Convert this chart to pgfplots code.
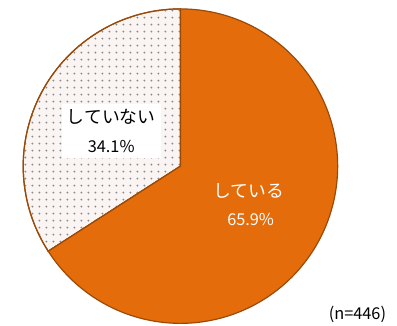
\documentclass[border=0pt]{standalone}
\usepackage{pgfplots}
\pgfplotsset{compat=1.18}
\usepackage{pgfplotstable}
\usepackage{fontspec}
\setmainfont{Noto Sans CJK JP}
\usetikzlibrary{patterns.meta}
\definecolor{pieorange}{HTML}{E46C0A}
\definecolor{pieedge}{HTML}{9A4A08}
\definecolor{dotbg}{HTML}{FAF5F2}
\definecolor{dotfg}{HTML}{8C8C8C}
\tikzdeclarepattern{name=mydots, type=uncolored,
  bottom left={(0,0)}, top right={(7.5bp,7.5bp)}, tile size={(7.5bp,7.5bp)},
  code={\fill (3.75bp,3.75bp) circle (1.1bp);}}
\pgfplotstableread{
label value
yes 65.9
no 34.1
}\piedata
\begin{document}
\pgfplotstablegetelem{0}{value}\of\piedata \let\vyes\pgfplotsretval
\pgfmathsetmacro\aend{90-3.6*\vyes}
\pgfmathsetmacro\aendb{\aend+360}
\begin{tikzpicture}
\begin{axis}[hide axis, scale only axis, width=397bp, height=329bp,
  xmin=0, xmax=397, ymin=0, ymax=329, clip=false]
\addplot[draw=pieedge, line width=1.2pt, fill=dotbg,
  postaction={pattern=mydots, pattern color=dotfg},
  domain=90:\aendb, samples=200, variable=\t]
  ({178+159*cos(t)},{161+159*sin(t)}) -- (axis cs:178,161) -- cycle;
\addplot[draw=pieedge, line width=1.2pt, fill=pieorange,
  domain=\aend:90, samples=300, variable=\t]
  ({178+159*cos(t)},{161+159*sin(t)}) -- (axis cs:178,161) -- cycle;
\fill[white] (axis cs:58,224) rectangle (axis cs:158,169);
\node[font=\fontsize{18bp}{20bp}\selectfont, text=black] at (axis cs:108,211) {していない};
\node[font=\fontsize{16.5bp}{19bp}\selectfont, text=black] at (axis cs:108,181) {34.1\%};
\node[font=\fontsize{18bp}{20bp}\selectfont, text=white] at (axis cs:247,136) {している};
\node[font=\fontsize{16.5bp}{19bp}\selectfont, text=white] at (axis cs:249,107) {65.9\%};
\node[font=\fontsize{16.5bp}{19bp}\selectfont, text=black] at (axis cs:357,11) {(n=446)};
\end{axis}
\pgfresetboundingbox
\useasboundingbox (current axis.south west) rectangle (current axis.north east);
\end{tikzpicture}
\end{document}
